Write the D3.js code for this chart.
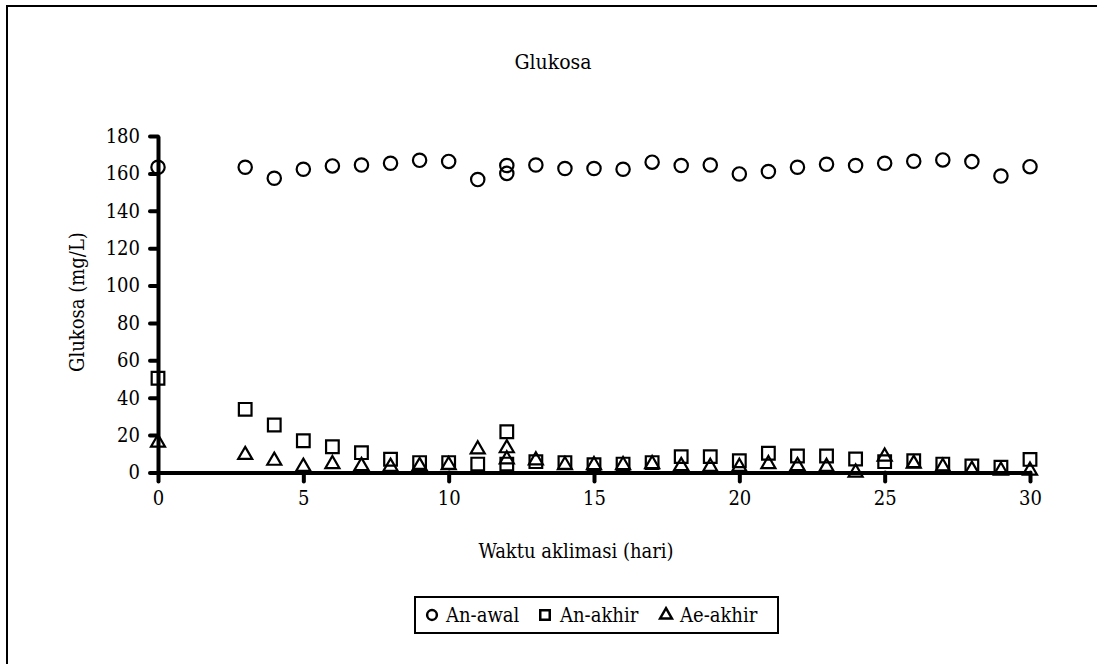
<!DOCTYPE html>
<html>
<head>
<meta charset="utf-8">
<script src="https://cdn.jsdelivr.net/npm/d3@7"></script>
<style>
    body { margin: 0; background: #fff; }
    svg { display: block; }
    svg text { font-family: "DejaVu Serif Condensed", "DejaVu Serif", serif; font-stretch: condensed; fill: #000; }
</style>
</head>
<body>
<div id="chart"></div>
<script>
    "use strict";

    // chart data
    const days = [0, 3, 4, 5, 6, 7, 8, 9, 10, 11, 12, 12, 13, 14, 15, 16, 17, 18, 19, 20, 21, 22, 23, 24, 25, 26, 27, 28, 29, 30];
    const anAwal = [163.3, 163.3, 157.4, 162.2, 164, 164.5, 165.4, 167, 166.4, 156.7, 164.2, 160, 164.5, 162.6, 162.6, 162.2, 166, 164.2, 164.5, 159.7, 161, 163.3, 164.9, 164.2, 165.4, 166.5, 167.2, 166.3, 158.6, 163.6];
    const anAkhir = [50.4, 33.8, 25.4, 17, 13.8, 10.6, 7.1, 5.3, 5.3, 4.5, 21.8, 4.5, 5.8, 5.3, 4.2, 4.5, 5.3, 8.5, 8.5, 6.3, 10.3, 8.8, 8.8, 7.2, 5.8, 6.3, 4.5, 3.5, 2.8, 7];
    const aeAkhir = [16, 9.4, 6.3, 3.1, 4.5, 3.5, 3.1, 3.5, 4, 12.4, 13, 7, 6.5, 4, 4, 4, 4.5, 3.5, 3, 3, 4.5, 3.5, 3, 0, 8.5, 4.7, 3, 1.5, 1, 1];
    const seriesNames = ["An-awal", "An-akhir", "Ae-akhir"];
    const xTicks = [0, 5, 10, 15, 20, 25, 30];
    const yTicks = [0, 20, 40, 60, 80, 100, 120, 140, 160, 180];

    const width = 1097;
    const height = 664;
    const fontSize = 20;

    let svg = d3.select("#chart").append("svg")
        .attr("width", width)
        .attr("height", height);

    // outer chart border (only left and top edges fall inside the picture)
    svg.append("rect")
        .attr("x", 7)
        .attr("y", 6)
        .attr("width", 1200)
        .attr("height", 800)
        .style("fill", "none")
        .style("stroke", "#000")
        .style("stroke-width", 2);

    let xScale = d3.scaleLinear().domain([0, 30]).range([158, 1030]);
    let yScale = d3.scaleLinear().domain([0, 180]).range([472.5, 136]);

    // title
    svg.append("text")
        .attr("x", 553)
        .attr("y", 69)
        .style("text-anchor", "middle")
        .style("font-size", "21px")
        .text("Glukosa");

    // axes
    let xAxis = d3.axisBottom(xScale)
        .tickValues(xTicks)
        .tickSizeInner(9)
        .tickSizeOuter(0)
        .tickPadding(9);
    let yAxis = d3.axisLeft(yScale)
        .tickValues(yTicks)
        .tickSizeInner(8)
        .tickSizeOuter(0)
        .tickPadding(10);

    let gx = svg.append("g")
        .attr("transform", `translate(0,${yScale(0)})`)
        .call(xAxis);
    let gy = svg.append("g")
        .attr("transform", `translate(${xScale(0)},0)`)
        .call(yAxis);

    [gx, gy].forEach(g => {
        g.attr("font-family", null).attr("font-size", null);
        g.select(".domain").style("stroke", "#000").style("stroke-width", 4);
        g.selectAll(".tick line").style("stroke", "#000").style("stroke-width", 4).style("stroke-linecap", "round");
        g.selectAll(".tick text").style("font-size", `${fontSize}px`);
    });

    // axis titles
    svg.append("text")
        .attr("x", 576)
        .attr("y", 558)
        .style("text-anchor", "middle")
        .style("font-size", `${fontSize}px`)
        .text("Waktu aklimasi (hari)");

    svg.append("text")
        .attr("transform", "translate(84,302) rotate(-90)")
        .style("text-anchor", "middle")
        .style("font-size", `${fontSize}px`)
        .text("Glukosa (mg/L)");

    // markers
    let symbols = [
        d3.symbol().type(d3.symbolCircle).size(140),
        d3.symbol().type(d3.symbolSquare).size(160),
        d3.symbol().type(d3.symbolTriangle).size(85)
    ];
    let seriesValues = [anAwal, anAkhir, aeAkhir];

    let points = [];
    for (let s = 0; s < seriesValues.length; s++) {
        for (let i = 0; i < days.length; i++) {
            points.push({ id: s, x: days[i], y: seriesValues[s][i] });
        }
    }

    svg.selectAll(".dot")
        .data(points)
        .enter()
        .append("path")
        .attr("class", "dot")
        .attr("d", d => symbols[d.id]())
        .attr("transform", d => `translate(${xScale(d.x)},${yScale(d.y)})`)
        .style("fill", "none")
        .style("stroke", "#000")
        .style("stroke-width", 2.2);

    // legend
    svg.append("rect")
        .attr("x", 415)
        .attr("y", 597)
        .attr("width", 363)
        .attr("height", 36)
        .style("fill", "#fff")
        .style("stroke", "#000")
        .style("stroke-width", 2);

    let legendSymbols = [
        d3.symbol().type(d3.symbolCircle).size(75),
        d3.symbol().type(d3.symbolSquare).size(90),
        d3.symbol().type(d3.symbolTriangle).size(60)
    ];
    let legendMarkX = [432, 545, 666];
    let legendTextX = [446, 560, 680];

    let legend = svg.selectAll(".legend")
        .data(seriesNames)
        .enter()
        .append("g")
        .attr("class", "legend");

    legend.append("path")
        .attr("d", (_d, i) => legendSymbols[i]())
        .attr("transform", (_d, i) => `translate(${legendMarkX[i]},615)`)
        .style("fill", "none")
        .style("stroke", "#000")
        .style("stroke-width", 2.5);

    legend.append("text")
        .attr("x", (_d, i) => legendTextX[i])
        .attr("y", 622)
        .style("font-size", `${fontSize}px`)
        .text(d => d);
</script>
</body>
</html>
